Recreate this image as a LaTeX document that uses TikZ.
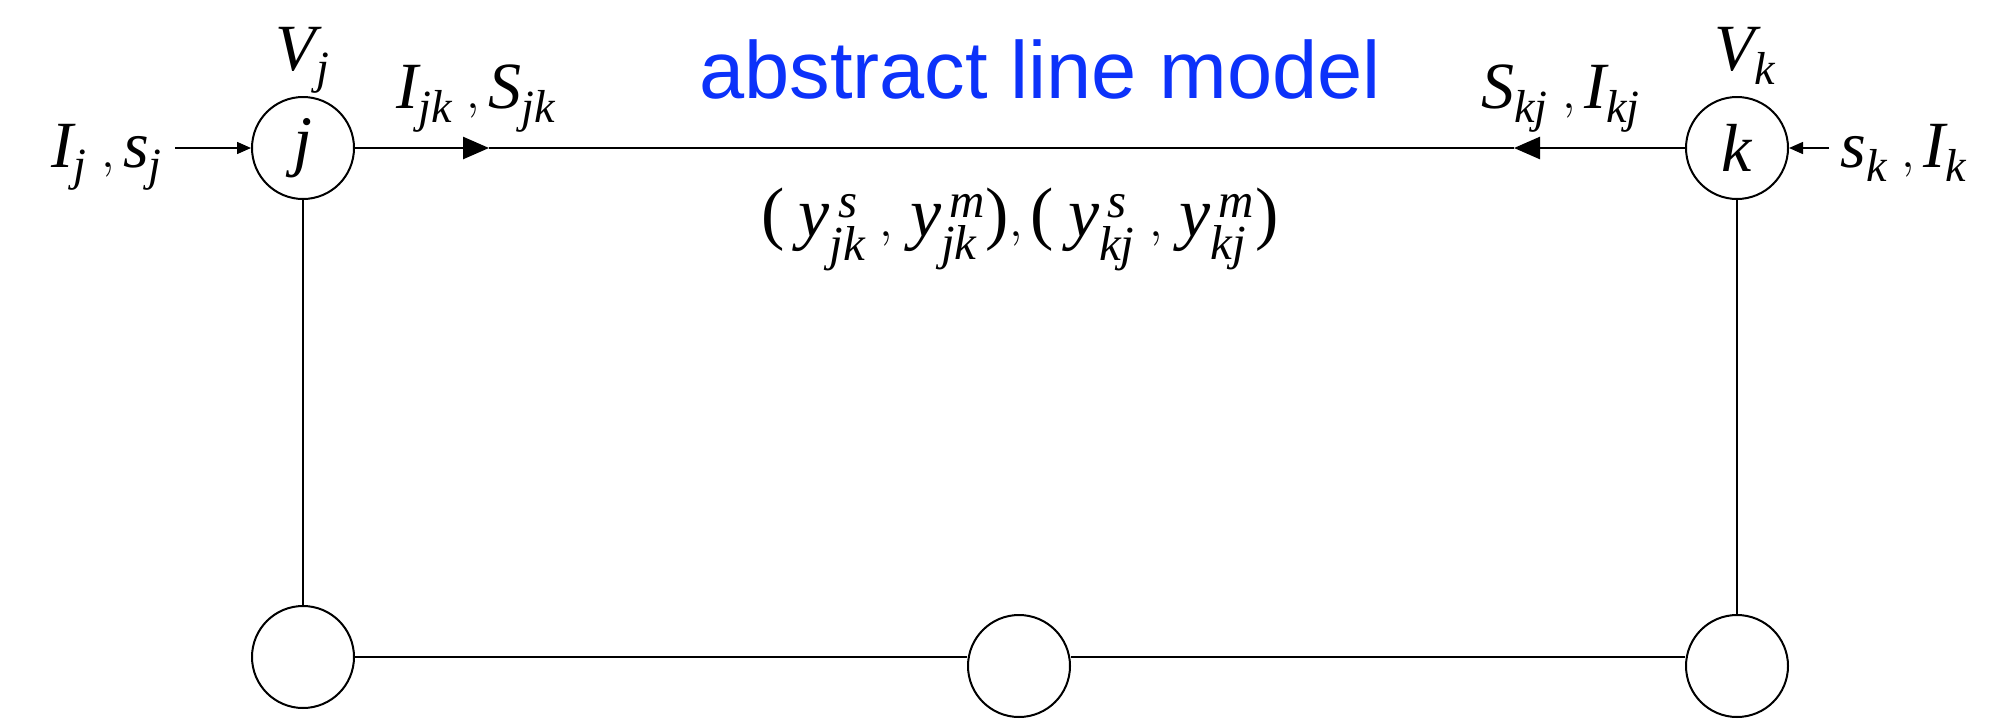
\documentclass[tikz,border=0pt]{standalone}
\usepackage{amsmath}
\usepackage{fontspec}
\setmainfont{Liberation Serif}
\newfontfamily\titlefont{Liberation Sans}
\usetikzlibrary{arrows.meta}
\definecolor{titleblue}{RGB}{12,50,250}
\newcommand\vi[1]{\textit{#1}}
\newcommand\ys[2]{\vi{y}^{\,\vi{#1}}_{\vi{#2}}}
\begin{document}
\begin{tikzpicture}[x=0.5pt,y=-0.5pt,
 bus/.style={circle,draw,line width=1pt,minimum size=51pt,inner sep=0pt,font=\fontsize{34}{40}\selectfont\itshape},
 lbl/.style={font=\fontsize{33}{38}\selectfont, inner sep=0pt},
 mainline/.style={line width=1.3pt},
 thinline/.style={line width=0.75pt},
 bigtip/.style={-{Triangle[length=13pt,width=11pt]}},
 smalltip/.style={-{Triangle[length=7pt,width=6pt]}}]
\useasboundingbox (0,0) rectangle (2003,718);
% buses
\node[bus] (j) at (303,148) {j};
\node[bus] (k) at (1737,148) {k};
\node[bus] (b1) at (303,657) {};
\node[bus] (b2) at (1019,666) {};
\node[bus] (b3) at (1737,666) {};
% labels
\node[lbl,anchor=base] (vj) at (303,70) {$\vi{V}_{\vi{j}}$};
\node[lbl,anchor=base] (vk) at (1745,70) {$\vi{V}_{\vi{k}}$};
\node[lbl,anchor=base west] (ljk) at (396,108) {$\vi{I}_{\vi{jk}}\;,\vi{S}_{\vi{jk}}$};
\node[lbl,anchor=base east] (lkj) at (1641,108) {$\vi{S}_{\vi{kj}}\;,\vi{I}_{\vi{kj}}$};
\node[lbl,anchor=base east] (lj) at (163,167) {$\vi{I}_{\vi{j}}\;,\vi{s}_{\vi{j}}$};
\node[lbl,anchor=base west] (lk) at (1840,167) {$\vi{s}_{\vi{k}}\;,\vi{I}_{\vi{k}}$};
\node[lbl,anchor=base,font=\fontsize{35}{40}\selectfont] (ly) at (1020,236) {$\textrm{(}\;\ys{s}{jk}\;,\,\ys{m}{jk}\textrm{)},\textrm{(}\;\ys{s}{kj}\;,\,\ys{m}{kj}\textrm{)}$};
\node[anchor=base,inner sep=0pt,text=titleblue,font=\titlefont\fontsize{40.6}{48}\selectfont] (title) at (1040,98) {abstract line model};
% connectors
\coordinate (inL) at (175,148);
\coordinate (inR) at (1829,148);
\coordinate (t1) at (489,148);
\coordinate (t2) at (1514,148);
\draw[thinline,smalltip] (inL) -- (j);
\draw[thinline,smalltip] (inR) -- (k);
\draw[mainline,bigtip] (j) -- (t1);
\draw[mainline] (t1) -- (t2);
\draw[mainline,bigtip] (k) -- (t2);
\draw[thinline] (j) -- (b1);
\draw[thinline] (k) -- (b3);
\draw[mainline] (b1.east) -- (b1.east -| b2.west);
\draw[mainline] (b1.east -| b2.east) -- (b1.east -| b3.west);
\end{tikzpicture}
\end{document}
